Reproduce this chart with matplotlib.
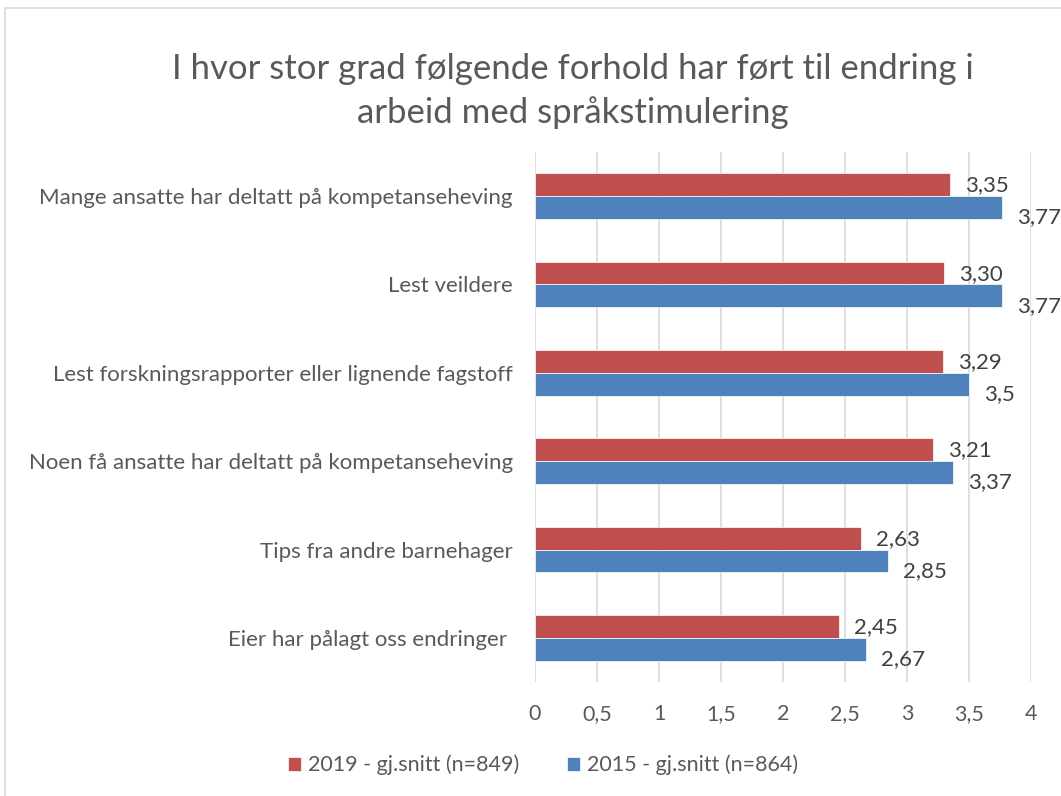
import numpy as np
import matplotlib
matplotlib.use('Agg')
from matplotlib import pyplot
from matplotlib.patches import Rectangle

pyplot.rcParams['font.family'] = ['Lato', 'DejaVu Sans']

# Data (top to bottom)
categories = ['Mange ansatte har deltatt på kompetanseheving',
              'Lest veildere',
              'Lest forskningsrapporter eller lignende fagstoff',
              'Noen få ansatte har deltatt på kompetanseheving',
              'Tips fra andre barnehager',
              'Eier har pålagt oss endringer ']
vals_2019 = [3.35, 3.30, 3.29, 3.21, 2.63, 2.45]
vals_2015 = [3.77, 3.77, 3.5, 3.37, 2.85, 2.67]
labels_2019 = ['3,35', '3,30', '3,29', '3,21', '2,63', '2,45']
labels_2015 = ['3,77', '3,77', '3,5', '3,37', '2,85', '2,67']
xticks = [0, 0.5, 1, 1.5, 2, 2.5, 3, 3.5, 4]
xtick_labels = ['0', '0,5', '1', '1,5', '2', '2,5', '3', '3,5', '4']

red = '#C0504D'
blue = '#4F81BD'
txt = '#595959'

fig = pyplot.figure(figsize=(10.61, 7.96), dpi=100)
ax = fig.add_axes([535/1061, 1 - 682/796, 496/1061, 530/796])

# chart border (cropped on right/bottom in the reference)
fig.patches.append(Rectangle((5/1061, -0.1), 1.2, 1 - 8/796 + 0.1, transform=fig.transFigure,
                             fill=False, edgecolor='#D9D9D9', linewidth=1.2))

y = np.arange(len(categories))
h = 0.26
ax.barh(y - h/2, vals_2019, height=h, color=red, edgecolor='white', linewidth=0.5,
        label='2019 - gj.snitt (n=849)', zorder=3)
ax.barh(y + h/2, vals_2015, height=h, color=blue, edgecolor='white', linewidth=0.5,
        label='2015 - gj.snitt (n=864)', zorder=3)

for i in range(len(categories)):
    ax.text(vals_2019[i] + 0.12, y[i] - h/2 + 0.01, labels_2019[i], va='center', ha='left',
            fontsize=16, color='#404040', clip_on=False)
    ax.text(vals_2015[i] + 0.12, y[i] + h/2 + 0.11, labels_2015[i], va='center', ha='left',
            fontsize=16, color='#404040', clip_on=False)

ax.set_ylim(len(categories) - 0.5, -0.5)
ax.set_xlim(0, 4)
ax.set_yticks(y)
ax.set_yticklabels(categories, fontsize=16, color=txt)
ax.set_xticks(xticks)
ax.set_xticklabels(xtick_labels, fontsize=15.5, color=txt)
ax.tick_params(axis='both', length=0)
ax.tick_params(axis='y', pad=16)
ax.tick_params(axis='x', pad=16)
ax.grid(axis='x', color='#D9D9D9', linewidth=1.2, zorder=0)
for s in ax.spines.values():
    s.set_visible(False)

fig.text(573/1061, 1 - 91/796, 'I hvor stor grad følgende forhold har ført til endring i\narbeid med språkstimulering',
         ha='center', va='center', fontsize=25, color=txt, linespacing=1.45)

fig.legend(loc='center', bbox_to_anchor=(543/1061, 1 - 765/796), ncol=2, frameon=False,
           fontsize=15.5, labelcolor=txt, handlelength=0.6, handleheight=0.6,
           handletextpad=0.35, columnspacing=2.2)

pyplot.savefig('out.png', dpi=100)
